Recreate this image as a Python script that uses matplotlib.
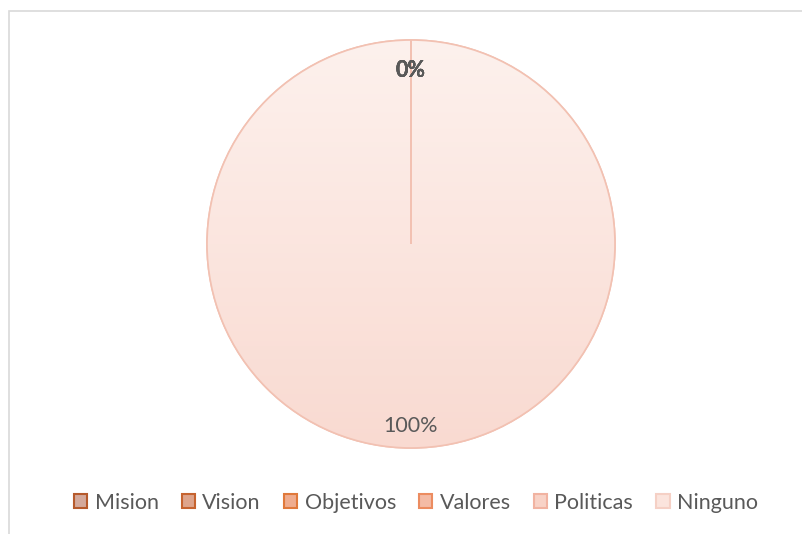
import numpy as np
import matplotlib
matplotlib.use("Agg")
import matplotlib.pyplot as plt
from matplotlib.patches import Rectangle, Patch, PathPatch
from matplotlib.colors import LinearSegmentedColormap

categories = ["Mision", "Vision", "Objetivos", "Valores", "Politicas", "Ninguno"]
values = [0, 0, 0, 0, 0, 100]

face_colors = ["#d4a99b", "#dea48b", "#efac8e", "#f4bba5", "#f8d2c6", "#fbe4dd"]
edge_colors = ["#b65a2c", "#c6632f", "#e0793b", "#ec8c60", "#f1b3a1", "#f5d0c5"]
pie_edge = "#f2c1b2"
text_color = "#595959"

plt.rcParams["font.family"] = ["Lato", "DejaVu Sans"]

W, H = 802, 534
fig = plt.figure(figsize=(W / 100, H / 100), dpi=100)
fig.patch.set_facecolor("white")

# chart area border (open to the right and bottom)
fig.add_artist(Rectangle((9 / W, -0.1), 1.2, 1.1 - 11 / H, transform=fig.transFigure,
                         fill=False, edgecolor="#d9d9d9", linewidth=1.2))

cx, cy, r = 411, 244, 205
ax = fig.add_axes([(cx - r) / W, (H - cy - r) / H, 2 * r / W, 2 * r / H])
ax.set_aspect("equal")

wedges, texts, autotexts = ax.pie(
    values, startangle=90, counterclock=False, radius=1.0,
    colors=face_colors, autopct="%1.0f%%", pctdistance=0.87,
    wedgeprops=dict(edgecolor=pie_edge, linewidth=1.2),
    textprops=dict(color=text_color, fontsize=15.5),
)
ax.set_xlim(-1.005, 1.005)
ax.set_ylim(-1.005, 1.005)

# soft vertical gradient inside the full slice
grad = LinearSegmentedColormap.from_list("g", ["#f9dad1", "#fdf1ed"])
img = ax.imshow(np.linspace(0, 1, 256).reshape(-1, 1), cmap=grad, origin="lower",
                extent=[-1, 1, -1, 1], aspect="auto", zorder=wedges[-1].get_zorder() + 0.1)
img.set_clip_path(wedges[-1])
for w in wedges:
    ax.add_patch(PathPatch(w.get_path(), transform=w.get_transform(), fill=False,
                           edgecolor=pie_edge, linewidth=1.2,
                           zorder=img.get_zorder() + 0.1))
for v, t in zip(values, autotexts):
    t.set_zorder(img.get_zorder() + 1)
    x, y = t.get_position()
    t.set_position((x, y - 0.02))
    if v == 0:
        t.set_fontweight("bold")

handles = [Patch(facecolor=fc, edgecolor=ec, linewidth=1.5) for fc, ec in zip(face_colors, edge_colors)]
fig.legend(handles, categories, loc="center", bbox_to_anchor=(416 / W, 1 - 503 / H),
           ncol=6, frameon=False, fontsize=15.5, handlelength=0.62, handleheight=0.62,
           handletextpad=0.33, columnspacing=1.08, labelcolor=text_color)

fig.savefig("out.png", dpi=100, facecolor="white")
